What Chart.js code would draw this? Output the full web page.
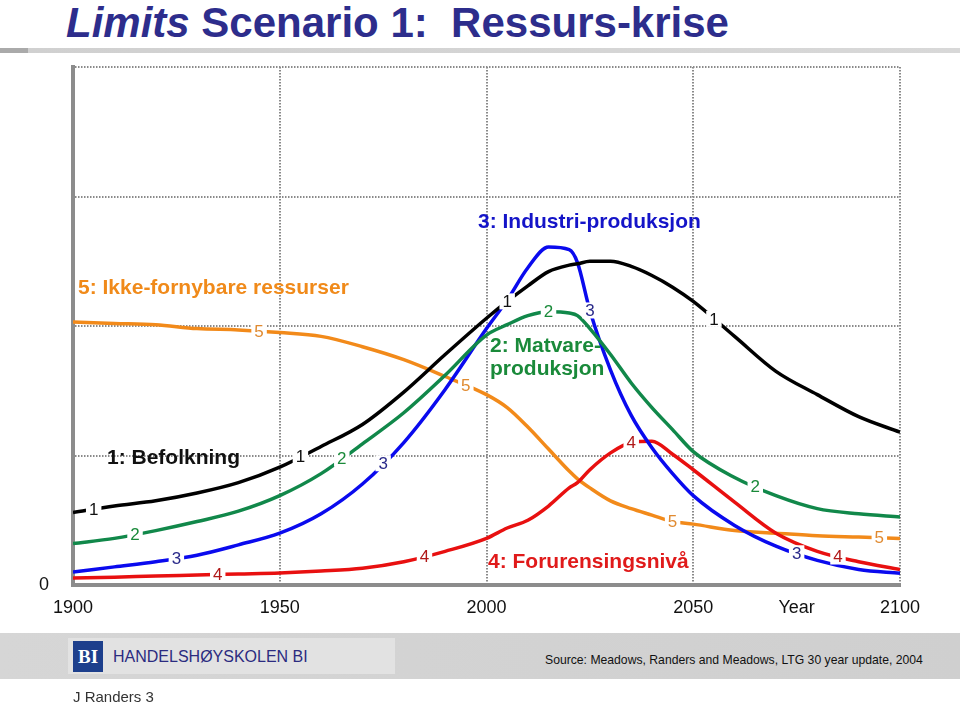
<!DOCTYPE html>
<html>
<head>
<meta charset="utf-8">
<script src="https://cdn.jsdelivr.net/npm/chart.js@4/dist/chart.umd.min.js"></script>
<style>
  html, body { margin:0; padding:0; background:#fff; }
  body { width:960px; height:704px; position:relative; overflow:hidden; font-family:"Liberation Sans", Arial, sans-serif; }
  #wrap { position:absolute; left:0; top:0; width:960px; height:704px; }
  .abs { position:absolute; white-space:nowrap; }
  .title { left:66px; top:2px; font-family:"Liberation Sans Narrow","Liberation Sans",sans-serif; font-weight:bold; font-size:42px; line-height:42px; color:#2d2d8c; }
  .ann { font-weight:bold; font-size:21px; line-height:22px; }
</style>
</head>
<body>
<div class="abs title"><i>Limits</i> Scenario 1:&nbsp; Ressurs-krise</div>
<div class="abs" style="left:0;top:48px;width:960px;height:5px;background:linear-gradient(to right,#aaaaaa 0,#aaaaaa 28px,#d0d0d0 28px,#d8d8d8 100%);"></div>

<div id="wrap"><canvas id="c" width="960" height="704"></canvas></div>

<div class="abs ann" style="left:478px;top:210px;color:#1414c8;">3: Industri-produksjon</div>
<div class="abs ann" style="left:78px;top:276px;color:#f08a1a;">5: Ikke-fornybare ressurser</div>
<div class="abs ann" style="left:490px;top:333px;color:#1a8a3a;line-height:23px;">2: Matvare-<br>produksjon</div>
<div class="abs ann" style="left:107px;top:446px;color:#111;">1: Befolkning</div>
<div class="abs ann" style="left:488px;top:550px;color:#e01a1a;">4: Forurensingsnivå</div>

<div class="abs" style="left:0;top:633px;width:960px;height:46px;background:linear-gradient(to right,#d6d6d6,#cfcfcf);"></div>
<div class="abs" style="left:68px;top:638px;width:327px;height:36px;background:#e2e2e2;"></div>
<div class="abs" style="left:73px;top:641px;width:30px;height:31px;background:#1d3f8c;color:#fff;font-family:'Liberation Serif',serif;font-weight:bold;font-size:19px;line-height:31px;text-align:center;">BI</div>
<div class="abs" style="left:113px;top:647px;font-size:16px;line-height:20px;color:#2b2b80;">HANDELSHØYSKOLEN BI</div>
<div class="abs" style="left:545px;top:651px;font-size:12.2px;line-height:18px;color:#111;">Source: Meadows, Randers and Meadows, LTG 30 year update, 2004</div>
<div class="abs" style="left:73px;top:688px;font-size:15px;line-height:18px;color:#333;font-family:'Liberation Sans Narrow','Liberation Sans',sans-serif;">J Randers 3</div>

<script>
// ---- data ----
const years = [1900,1910,1920,1930,1940,1950,1960,1970,1980,1990,2000,2005,2010,2015,2020,2022,2025,2030,2035,2040,2045,2050,2060,2070,2080,2090,2100];
const population = [0.56,0.61,0.65,0.71,0.79,0.91,1.07,1.24,1.49,1.78,2.06,2.19,2.31,2.42,2.47,2.48,2.50,2.50,2.46,2.39,2.30,2.19,1.92,1.65,1.47,1.30,1.18];
const food = [0.32,0.36,0.42,0.49,0.57,0.69,0.86,1.09,1.33,1.62,1.93,2.01,2.08,2.11,2.10,2.08,1.98,1.78,1.56,1.37,1.20,1.03,0.83,0.69,0.59,0.55,0.525];
const industry = [0.10,0.14,0.18,0.23,0.31,0.40,0.55,0.78,1.10,1.51,1.98,2.20,2.45,2.61,2.59,2.49,2.12,1.66,1.31,1.06,0.86,0.69,0.46,0.30,0.19,0.12,0.09];
const pollution = [0.054,0.06,0.07,0.077,0.085,0.093,0.108,0.13,0.18,0.26,0.36,0.44,0.50,0.61,0.75,0.79,0.89,1.02,1.10,1.11,1.01,0.89,0.64,0.40,0.26,0.18,0.12];
const resources = [2.03,2.02,2.01,1.98,1.97,1.95,1.92,1.84,1.74,1.61,1.47,1.37,1.22,1.05,0.88,0.82,0.75,0.65,0.59,0.54,0.49,0.47,0.42,0.40,0.38,0.37,0.36];
const xTicks = [1900,1950,2000,2050,2075,2100];
const xTickLabels = ['1900','1950','2000','2050','Year','2100'];
const seriesTags = ['1','2','3','4','5'];

// ---- chart ----
const lineColors = ['#000000','#11884a','#0a0aee','#e81010','#f28a1a'];
const tagColors  = ['#111111','#1a8a3a','#2a2a8a','#b01818','#e08a30'];
const seriesVals = [population, food, industry, pollution, resources];

function interp(xs, ys, x) {
  for (let i = 0; i < xs.length - 1; i++) {
    if (x >= xs[i] && x <= xs[i+1]) {
      const t = (x - xs[i]) / (xs[i+1] - xs[i]);
      return ys[i] + t * (ys[i+1] - ys[i]);
    }
  }
  return ys[ys.length-1];
}

const tagPlugin = {
  id: 'tags',
  afterDatasetsDraw(chart) {
    const {ctx, scales:{x, y}} = chart;
    ctx.save();
    ctx.font = '17px "Liberation Sans", Arial, sans-serif';
    ctx.textAlign = 'center';
    ctx.textBaseline = 'middle';
    seriesVals.forEach((vals, i) => {
      for (let yr = 1905 + 10*i; yr <= 2100; yr += 50) {
        const v = interp(years, vals, yr);
        const px = x.getPixelForValue(yr), py = y.getPixelForValue(v);
        const w = ctx.measureText(seriesTags[i]).width;
        ctx.fillStyle = '#fff';
        ctx.fillRect(px - w/2 - 3, py - 8, w + 6, 16);
        ctx.fillStyle = tagColors[i];
        ctx.fillText(seriesTags[i], px, py + 1);
      }
    });
    ctx.restore();
  }
};

const datasets = seriesVals.map((vals, i) => ({
  data: years.map((yr, k) => ({x: yr, y: vals[k]})),
  borderColor: lineColors[i],
  borderWidth: 3.5,
  pointRadius: 0,
  fill: false,
  cubicInterpolationMode: 'monotone'
}));

new Chart(document.getElementById('c'), {
  type: 'line',
  data: { datasets },
  options: {
    responsive: false,
    animation: false,
    events: [],
    layout: { padding: { left: 20, top: 67, right: 60, bottom: 89 } },
    plugins: { legend: { display: false }, tooltip: { enabled: false } },
    scales: {
      x: {
        type: 'linear', min: 1900, max: 2100,
        afterBuildTicks: s => { s.ticks = xTicks.map(v => ({value: v})); },
        afterFit: s => { s.height = 30; },
        ticks: {
          padding: 12,
          color: '#111',
          font: { family: '"Liberation Sans", Arial, sans-serif', size: 18 },
          maxRotation: 0,
          autoSkip: false,
          callback: v => xTickLabels[xTicks.indexOf(v)]
        },
        grid: {
          drawTicks: false,
          color: c => (c.tick && c.tick.value === 2075) ? 'rgba(0,0,0,0)' : '#8a8a8a',
          lineWidth: 2
        },
        border: { display: true, color: '#8c8c8c', width: 4, dash: [1.5, 1.5] }
      },
      y: {
        type: 'linear', min: 0, max: 4,
        afterBuildTicks: s => { s.ticks = [0,1,2,3,4].map(v => ({value: v})); },
        afterFit: s => { s.width = 53; },
        ticks: {
          padding: 24,
          color: '#111',
          font: { family: '"Liberation Sans", Arial, sans-serif', size: 18 },
          callback: v => v === 0 ? '0' : ''
        },
        grid: { drawTicks: false, color: '#8a8a8a', lineWidth: 2 },
        border: { display: true, color: '#8c8c8c', width: 4, dash: [1.5, 1.5] }
      }
    }
  },
  plugins: [tagPlugin]
});
</script>
</body>
</html>
